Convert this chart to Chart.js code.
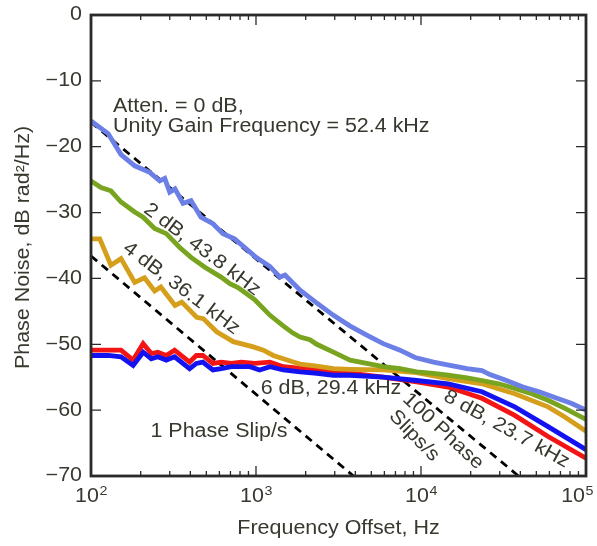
<!DOCTYPE html>
<html>
<head>
<meta charset="utf-8">
<title>Phase noise vs frequency offset</title>
<script src="https://cdn.jsdelivr.net/npm/chart.js@4.4.1/dist/chart.umd.min.js"></script>
<style>
  html, body { margin: 0; padding: 0; background: #fff; }
  #wrap { width: 597px; height: 546px; }
</style>
</head>
<body>
<div id="wrap"><canvas id="pn-chart" width="597" height="546"></canvas></div>
<script>
// Phase noise (dB rad^2/Hz) against offset frequency (Hz), one pair per attenuation
const freq0dB = [100, 127, 152, 184, 227, 261, 280, 300, 323, 361, 404, 464, 548, 631, 741, 920, 1000, 1216, 1397, 1500, 1850, 2330, 2950, 3700, 4690, 5900, 7460, 9200, 11900, 15000, 19000, 23400, 26200, 33000, 41500, 52000, 66700, 82000, 100000];
const pn0dB = [-16.1, -18.0, -21.2, -22.9, -23.9, -25.2, -24.8, -26.9, -26.4, -28.6, -28.2, -30.7, -31.7, -33.2, -34.0, -36.0, -36.8, -38.2, -39.8, -39.5, -41.8, -43.7, -45.6, -47.2, -48.6, -49.9, -50.9, -52.0, -52.7, -53.2, -53.7, -54.0, -54.6, -55.5, -56.5, -57.2, -58.2, -59.0, -60.0];

const freq2dB = [100, 115, 132, 152, 184, 207, 243, 286, 345, 404, 490, 614, 695, 778, 980, 1216, 1462, 1675, 1850, 2123, 2335, 2946, 3715, 4690, 5900, 7460, 9420, 11900, 14600, 19000, 23400, 29500, 37000, 46800, 58900, 74000, 100000];
const pn2dB = [-25.2, -26.2, -26.7, -28.4, -29.9, -30.7, -32.4, -33.2, -35.3, -36.8, -38.3, -39.8, -40.8, -41.4, -43.2, -45.6, -47.2, -48.3, -48.9, -49.3, -50.0, -51.2, -52.4, -52.9, -53.4, -53.7, -54.2, -54.4, -54.7, -55.1, -55.5, -56.0, -56.7, -57.5, -58.5, -59.7, -61.4];

const freq4dB = [100, 113, 132, 152, 184, 211, 243, 265, 323, 355, 437, 479, 578, 728, 963, 1108, 1273, 1683, 1850, 2335, 2946, 3715, 5900, 9420, 14600, 23400, 37000, 58900, 74000, 100000];
const pn4dB = [-34.0, -34.0, -38.0, -37.0, -40.6, -39.9, -41.9, -41.3, -44.1, -43.6, -45.9, -46.1, -48.1, -49.6, -50.4, -50.9, -51.7, -52.7, -53.0, -53.3, -53.7, -53.8, -53.9, -54.3, -55.2, -56.0, -57.5, -59.5, -61.0, -63.2];

const freq6dB = [100, 127, 152, 180, 207, 232, 254, 286, 321, 396, 435, 476, 548, 616, 708, 815, 920, 1050, 1216, 1462, 1850, 2335, 2946, 3715, 5900, 9420, 14600, 23400, 37000, 58900, 100000];
const pn6dB = [-51.7, -51.7, -51.9, -53.2, -51.2, -52.2, -51.9, -52.4, -51.9, -53.7, -52.9, -52.7, -53.9, -53.7, -53.4, -53.4, -53.4, -53.9, -53.4, -53.9, -54.2, -54.4, -54.7, -54.7, -55.0, -55.5, -56.0, -57.2, -59.5, -62.5, -66.0];

const freq8dB = [100, 127, 152, 180, 207, 232, 254, 286, 321, 396, 435, 476, 548, 616, 708, 815, 981, 1216, 1462, 2335, 3715, 5900, 9420, 14600, 23400, 37000, 58900, 100000];
const pn8dB = [-50.9, -50.9, -50.9, -52.4, -49.9, -51.4, -51.2, -51.7, -50.9, -52.7, -51.7, -51.7, -52.9, -52.7, -52.9, -52.7, -52.9, -52.7, -53.4, -53.9, -54.4, -55.0, -55.7, -56.5, -58.2, -60.8, -64.0, -67.3];

// phase slip limits (straight lines on the log axis)
const slip100Freq = [100, 39000];
const slip100Pn = [-16.3, -70];
const slip1Freq = [100, 3900];
const slip1Pn = [-36.6, -70];

const xDecades = [100, 1000, 10000, 100000];
const xExponents = ['2', '3', '4', '5'];
const yTicks = [0, -10, -20, -30, -40, -50, -60, -70];
const yTickLabels = ['0', '\u221210', '\u221220', '\u221230', '\u221240', '\u221250', '\u221260', '\u221270'];

const INK = '#38382f';
const FRAME = '#2a2a2a';
const FONT = '"Liberation Sans", Arial, Helvetica, sans-serif';
const FONT_SIZE = 19.5;
const STRETCH = 1.1;

// text on the plot, placed in data coordinates
const notes = [
    { text: 'Atten. = 0 dB,', f: 136, db: -13.85, angle: 0, align: 'left' },
    { text: 'Unity Gain Frequency = 52.4 kHz', f: 136, db: -16.9, angle: 0, align: 'left' },
    { text: '2 dB, 43.8 kHz', f: 471, db: -35.6, angle: 37 },
    { text: '4 dB, 36.1 kHz', f: 353, db: -41.5, angle: 37 },
    { text: '6 dB, 29.4 kHz', f: 2848, db: -56.8, angle: 0 },
    { text: '1 Phase Slip/s', f: 597, db: -63.2, angle: 0 },
    { text: '8 dB, 23.7 kHz', f: 33000, db: -62.9, angle: 29 },
    { text: '100 Phase', f: 13600, db: -63.2, angle: 43 },
    { text: 'Slips/s', f: 9080, db: -63.9, angle: 46 }
];

function toPoints(fs, vs) {
    return fs.map((f, i) => ({ x: f, y: vs[i] }));
}

function drawText(ctx, str, px, py, angle, align) {
    ctx.save();
    ctx.translate(px, py);
    if (angle) {
        ctx.rotate(angle * Math.PI / 180);
    }
    ctx.scale(STRETCH, 1);
    ctx.textAlign = align || 'center';
    ctx.textBaseline = 'middle';
    ctx.fillText(str, 0, 0);
    ctx.restore();
}

const frameAndText = {
    id: 'frameAndText',
    afterDatasetsDraw(chart) {
        const ctx = chart.ctx;
        const a = chart.chartArea;
        const x = chart.scales.x;
        const y = chart.scales.y;

        ctx.save();

        // inward ticks on all four sides
        ctx.strokeStyle = FRAME;
        ctx.lineWidth = 1.3;
        ctx.beginPath();
        xDecades.forEach(function(d, i) {
            const px = x.getPixelForValue(d);
            ctx.moveTo(px, a.bottom); ctx.lineTo(px, a.bottom - 10);
            ctx.moveTo(px, a.top); ctx.lineTo(px, a.top + 10);
            if (i < xDecades.length - 1) {
                for (let k = 2; k <= 9; k++) {
                    const pm = x.getPixelForValue(k * d);
                    ctx.moveTo(pm, a.bottom); ctx.lineTo(pm, a.bottom - 5);
                    ctx.moveTo(pm, a.top); ctx.lineTo(pm, a.top + 5);
                }
            }
        });
        yTicks.forEach(function(v) {
            const py = y.getPixelForValue(v);
            ctx.moveTo(a.left, py); ctx.lineTo(a.left + 10, py);
            ctx.moveTo(a.right, py); ctx.lineTo(a.right - 10, py);
        });
        ctx.stroke();

        // frame
        ctx.lineWidth = 2.8;
        ctx.strokeRect(a.left, a.top, a.right - a.left, a.bottom - a.top);

        ctx.fillStyle = INK;

        // y tick labels
        ctx.font = FONT_SIZE + 'px ' + FONT;
        yTicks.forEach(function(v, i) {
            drawText(ctx, yTickLabels[i], 82, y.getPixelForValue(v), 0, 'right');
        });

        // x tick labels with exponent
        xDecades.forEach(function(d, i) {
            ctx.font = FONT_SIZE + 'px ' + FONT;
            const wBase = ctx.measureText('10').width * STRETCH;
            ctx.font = '13px ' + FONT;
            const wExp = ctx.measureText(xExponents[i]).width * STRETCH;
            let left = x.getPixelForValue(d) - (wBase + wExp) / 2;
            left = Math.min(left, chart.width - 4 - wBase - wExp);
            ctx.save();
            ctx.translate(left, 502);
            ctx.scale(STRETCH, 1);
            ctx.textAlign = 'left';
            ctx.textBaseline = 'alphabetic';
            ctx.font = FONT_SIZE + 'px ' + FONT;
            ctx.fillText('10', 0, 0);
            ctx.font = '13px ' + FONT;
            ctx.fillText(xExponents[i], wBase / STRETCH + 0.5, -7);
            ctx.restore();
        });

        // axis titles
        ctx.font = FONT_SIZE + 'px ' + FONT;
        drawText(ctx, 'Frequency Offset, Hz', (a.left + a.right) / 2, 529, 0, 'center');
        drawText(ctx, 'Phase Noise, dB rad\u00b2/Hz)', 24, (a.top + a.bottom) / 2 + 2, -90, 'center');

        // annotations
        notes.forEach(function(n) {
            drawText(ctx, n.text, x.getPixelForValue(n.f), y.getPixelForValue(n.db), n.angle, n.align);
        });

        ctx.restore();
    }
};

function lineSet(label, fs, vs, color, order) {
    return {
        label: label,
        data: toPoints(fs, vs),
        borderColor: color,
        borderWidth: 4.8,
        pointRadius: 0,
        tension: 0,
        fill: false,
        order: order
    };
}

function dashSet(label, fs, vs) {
    return {
        label: label,
        data: toPoints(fs, vs),
        borderColor: '#000000',
        borderWidth: 2.8,
        borderDash: [8, 6],
        pointRadius: 0,
        tension: 0,
        fill: false,
        order: 10
    };
}

const ctx = document.getElementById('pn-chart').getContext('2d');

const chart = new Chart(ctx, {
    type: 'line',
    data: {
        datasets: [
            dashSet('100 Phase Slips/s', slip100Freq, slip100Pn),
            dashSet('1 Phase Slip/s', slip1Freq, slip1Pn),
            lineSet('8 dB', freq8dB, pn8dB, '#f31515', 5),
            lineSet('6 dB', freq6dB, pn6dB, '#1313f2', 4),
            lineSet('4 dB', freq4dB, pn4dB, '#d59f1b', 3),
            lineSet('2 dB', freq2dB, pn2dB, '#78a41f', 2),
            lineSet('0 dB', freq0dB, pn0dB, '#6b7fe6', 1)
        ]
    },
    options: {
        responsive: false,
        animation: false,
        devicePixelRatio: 1,
        layout: {
            padding: { top: 15, right: 11, left: 0, bottom: 0 }
        },
        plugins: {
            legend: { display: false },
            tooltip: { enabled: false }
        },
        scales: {
            x: {
                type: 'logarithmic',
                min: 100,
                max: 100000,
                grid: { display: false },
                border: { display: false },
                ticks: { display: false },
                afterFit: function(scale) { scale.height = 70; }
            },
            y: {
                type: 'linear',
                min: -70,
                max: 0,
                grid: { display: false },
                border: { display: false },
                ticks: { display: false },
                afterFit: function(scale) { scale.width = 91; }
            }
        }
    },
    plugins: [frameAndText]
});
</script>
</body>
</html>
